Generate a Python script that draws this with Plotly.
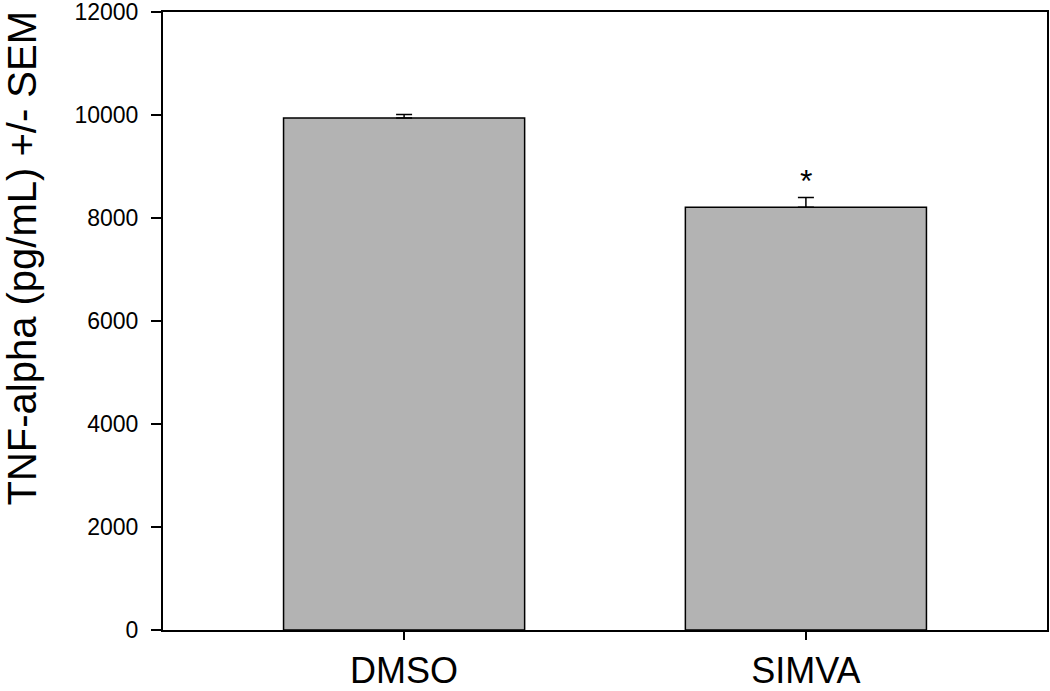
import plotly.graph_objects as go

groups = ["DMSO", "SIMVA"]
tnf_mean = [9940, 8210]
tnf_sem = [70, 190]
sig_marks = ["", "*"]
y_ticks = [0, 2000, 4000, 6000, 8000, 10000, 12000]
y_title = "TNF-alpha (pg/mL) +/- SEM"

font_family = "Liberation Sans, Arial, sans-serif"

fig = go.Figure()
fig.add_trace(go.Bar(
    x=groups, y=tnf_mean, width=0.6,
    marker=dict(color="#b3b3b3", line=dict(color="black", width=1.5)),
    error_y=dict(type="data", array=tnf_sem, arrayminus=[0] * len(tnf_sem),
                 symmetric=False, color="black", thickness=1.5, width=8),
    showlegend=False,
))

# significance marker above the error bar
for g, m, s, mk in zip(groups, tnf_mean, tnf_sem, sig_marks):
    if mk:
        fig.add_annotation(x=g, y=m + s, text=mk, showarrow=False,
                           xref="x", yref="y", yanchor="bottom", yshift=-4,
                           font=dict(family=font_family, size=32, color="black"))

# y title as a rotated annotation so it sits where the original has it
fig.add_annotation(x=-0.16, y=0.602, xref="paper", yref="paper", text=y_title,
                   textangle=-90, showarrow=False, xanchor="center", yanchor="middle",
                   font=dict(family=font_family, size=40, color="black"))

fig.update_layout(
    width=1050, height=691,
    margin=dict(l=163, r=3, t=12, b=61),
    paper_bgcolor="white", plot_bgcolor="white",
    font=dict(family=font_family, color="black"),
)
fig.update_xaxes(
    range=[-0.6, 1.6], showline=True, linecolor="black", linewidth=2, mirror=True,
    ticks="outside", ticklen=8, tickwidth=1.5, tickcolor="black",
    tickfont=dict(size=36), showgrid=False, zeroline=False, automargin=False,
)
fig.update_yaxes(
    range=[0, 12000], tickvals=y_ticks, ticktext=[str(v) for v in y_ticks],
    showline=True, linecolor="black", linewidth=2,
    mirror=True, ticks="outside", ticklen=10, tickwidth=1.5, tickcolor="black",
    tickfont=dict(size=23), showgrid=False, zeroline=False, automargin=False,
    ticklabeloverflow="allow", ticklabelstandoff=8,
)

fig.write_html("out.html", config={"displayModeBar": False},
               post_script="document.body.style.margin='0px';")
